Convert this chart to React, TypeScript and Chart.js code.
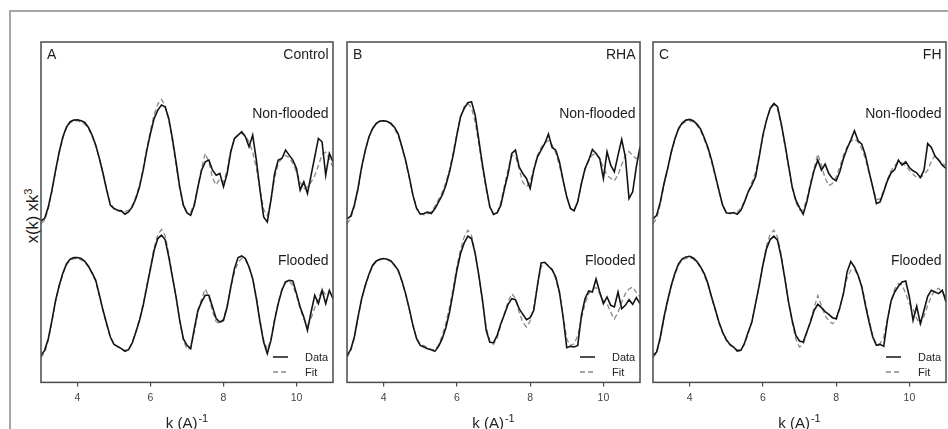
import React, { useEffect, useRef } from "react";
import { Chart, registerables } from "chart.js";

Chart.register(...registerables);

// k (Å^-1) sample positions
const kValues = [
  3.0, 3.1, 3.2, 3.3, 3.4, 3.5, 3.6, 3.7, 3.8, 3.9,
  4.0, 4.1, 4.2, 4.3, 4.4, 4.5, 4.6, 4.7, 4.8, 4.9,
  5.0, 5.1, 5.2, 5.3, 5.4, 5.5, 5.6, 5.7, 5.8, 5.9,
  6.0, 6.1, 6.2, 6.3, 6.4, 6.5, 6.6, 6.7, 6.8, 6.9,
  7.0, 7.1, 7.2, 7.3, 7.4, 7.5, 7.6, 7.7, 7.8, 7.9,
  8.0, 8.1, 8.2, 8.3, 8.4, 8.5, 8.6, 8.7, 8.8, 8.9,
  9.0, 9.1, 9.2, 9.3, 9.4, 9.5, 9.6, 9.7, 9.8, 9.9,
  10.0, 10.1, 10.2, 10.3, 10.4, 10.5, 10.6, 10.7, 10.8, 10.9,
  11.0,
];

const xTicks = [4, 6, 8, 10];

// Panel A - Control
const controlNonFloodedData = [
  4.84, 4.91, 5.26, 5.76, 6.36, 6.91, 7.36, 7.66, 7.81, 7.86,
  7.87, 7.84, 7.79, 7.64, 7.41, 7.11, 6.71, 6.26, 5.76, 5.31,
  5.21, 5.16, 5.14, 5.04, 5.11, 5.26, 5.51, 5.86, 6.36, 6.96,
  7.46, 7.91, 8.16, 8.31, 8.26, 7.91, 7.31, 6.61, 5.86, 5.31,
  5.08, 5.01, 5.31, 5.86, 6.36, 6.61, 6.66, 6.36, 6.21, 6.26,
  5.86, 6.26, 6.91, 7.31, 7.41, 7.51, 7.36, 7.06, 7.41, 6.66,
  5.76, 4.96, 4.81, 5.46, 6.26, 6.66, 6.71, 6.96, 6.81, 6.66,
  6.41, 5.76, 6.01, 5.66, 6.21, 6.76, 7.31, 7.21, 6.21, 6.86,
  6.61,
];
const controlNonFloodedFit = [
  4.76, 4.86, 5.2, 5.72, 6.32, 6.88, 7.32, 7.62, 7.78, 7.84,
  7.84, 7.8, 7.74, 7.6, 7.38, 7.08, 6.7, 6.25, 5.78, 5.38,
  5.2, 5.14, 5.12, 5.12, 5.16, 5.3, 5.56, 5.92, 6.42, 7.02,
  7.56, 8.02, 8.34, 8.48, 8.3, 7.86, 7.22, 6.5, 5.8, 5.3,
  5.1, 5.1, 5.36, 5.88, 6.42, 6.86, 6.6, 6.12, 5.92, 6.1,
  6.0, 6.36, 6.96, 7.3, 7.42, 7.46, 7.4, 7.2, 6.9, 6.42,
  5.8, 5.18, 5.0, 5.44, 6.12, 6.56, 6.72, 6.8, 6.74, 6.56,
  6.3, 6.0, 5.8, 5.86, 6.0, 6.2, 6.5, 6.82, 6.9, 6.7,
  6.45,
];
const controlFloodedData = [
  0.81, 0.96, 1.31, 1.86, 2.46, 2.91, 3.28, 3.56, 3.69, 3.74,
  3.74, 3.71, 3.63, 3.48, 3.28, 3.06, 2.61, 2.16, 1.76, 1.36,
  1.14, 1.08, 1.01, 0.93, 0.98, 1.18, 1.51, 1.86, 2.31, 2.86,
  3.41, 3.96, 4.31, 4.41, 4.28, 3.76, 3.16, 2.56, 1.86, 1.31,
  1.11, 1.01, 1.61, 2.16, 2.41, 2.61, 2.61, 2.26, 1.91, 1.81,
  1.86, 2.26, 2.86, 3.41, 3.74, 3.79, 3.71, 3.46, 3.11, 2.51,
  1.81, 1.21, 0.86, 1.26, 1.86, 2.36, 2.76, 3.01, 3.06, 3.04,
  2.66, 2.26, 1.96, 1.56, 2.11, 2.61, 2.36, 2.76, 2.36, 2.76,
  2.51,
];
const controlFloodedFit = [
  0.74, 0.9, 1.26, 1.82, 2.42, 2.88, 3.24, 3.52, 3.66, 3.71,
  3.71, 3.68, 3.6, 3.46, 3.26, 3.02, 2.6, 2.14, 1.72, 1.36,
  1.14, 1.06, 1.0, 0.96, 1.0, 1.2, 1.52, 1.9, 2.36, 2.92,
  3.48, 4.04, 4.42, 4.58, 4.4, 3.86, 3.2, 2.56, 1.86, 1.26,
  1.0, 1.02, 1.5, 2.1, 2.5, 2.8, 2.56, 2.12, 1.82, 1.76,
  1.9, 2.3, 2.84, 3.3, 3.6, 3.72, 3.68, 3.46, 3.1, 2.56,
  1.86, 1.26, 0.98, 1.3, 1.9, 2.4, 2.8, 3.0, 3.04, 2.9,
  2.6, 2.2, 1.9, 1.7, 1.92, 2.24, 2.5, 2.78, 2.62, 2.7,
  2.56,
];

// Panel B - RHA
const rhaNonFloodedData = [
  4.9, 4.98, 5.31, 5.81, 6.46, 6.96, 7.36, 7.61, 7.76, 7.83,
  7.84, 7.82, 7.76, 7.64, 7.44, 7.06, 6.66, 6.16, 5.61, 5.21,
  5.04, 5.06, 5.1, 5.06, 5.2, 5.41, 5.61, 5.91, 6.31, 6.81,
  7.41, 7.96, 8.21, 8.38, 8.41, 8.01, 7.26, 6.51, 5.86, 5.26,
  5.04, 5.08, 5.31, 5.81, 6.26, 6.86, 6.96, 6.46, 6.26, 6.11,
  5.81, 6.36, 6.76, 6.96, 7.16, 7.44, 7.04, 6.96, 6.61, 6.06,
  5.56, 5.21, 5.14, 5.41, 5.96, 6.41, 6.66, 6.98, 6.86, 6.71,
  6.11, 6.91, 6.51, 6.31, 6.81, 7.28, 6.76, 5.51, 5.71, 6.46,
  7.06,
];
const rhaNonFloodedFit = [
  4.76, 4.9, 5.26, 5.78, 6.42, 6.94, 7.34, 7.6, 7.76, 7.82,
  7.84, 7.82, 7.74, 7.6, 7.38, 7.04, 6.62, 6.12, 5.6, 5.24,
  5.06, 5.02, 5.04, 5.12, 5.28, 5.48, 5.7, 5.98, 6.38, 6.9,
  7.46, 7.96, 8.26, 8.36, 8.22, 7.8, 7.14, 6.42, 5.78, 5.24,
  5.02, 5.08, 5.4, 5.9, 6.4, 6.8, 6.78, 6.4, 6.0, 5.86,
  6.0, 6.4, 6.8, 7.04, 7.18, 7.24, 7.12, 6.88, 6.5, 6.02,
  5.56, 5.22, 5.16, 5.42, 5.94, 6.38, 6.66, 6.82, 6.84, 6.7,
  6.44, 6.2, 6.12, 6.04, 6.22, 6.52, 6.8, 6.92, 6.8, 6.7,
  6.76,
];
const rhaFloodedData = [
  0.81, 0.98, 1.36, 1.96, 2.51, 2.91, 3.24, 3.51, 3.64, 3.69,
  3.71, 3.69, 3.64, 3.51, 3.36, 3.04, 2.66, 2.21, 1.71, 1.31,
  1.11, 1.06, 1.01, 0.98, 0.93, 1.08, 1.31, 1.64, 2.11, 2.71,
  3.36, 3.86, 4.18, 4.38, 4.31, 3.86, 3.21, 2.46, 1.56, 1.2,
  1.19, 1.41, 1.76, 2.04, 2.34, 2.51, 2.48, 2.21, 2.04, 1.88,
  1.94, 2.16, 2.91, 3.58, 3.6, 3.48, 3.38, 3.16, 2.71, 1.96,
  1.04, 1.08, 1.06, 1.11, 2.01, 2.51, 2.74, 2.71, 3.1, 2.71,
  2.36, 2.56, 2.31, 2.26, 2.71, 2.21, 2.31, 2.48, 2.34, 2.54,
  2.36,
];
const rhaFloodedFit = [
  0.74, 0.94, 1.32, 1.92, 2.48, 2.88, 3.22, 3.48, 3.62, 3.68,
  3.7, 3.68, 3.62, 3.5, 3.32, 3.02, 2.64, 2.18, 1.7, 1.32,
  1.14, 1.1, 1.04, 0.98, 0.98, 1.12, 1.4, 1.78, 2.26, 2.84,
  3.46, 3.98, 4.36, 4.56, 4.4, 3.88, 3.18, 2.42, 1.66, 1.22,
  1.14, 1.34, 1.72, 2.08, 2.42, 2.66, 2.52, 2.1, 1.8, 1.66,
  1.84, 2.24, 2.9, 3.46, 3.58, 3.5, 3.36, 3.1, 2.68, 2.02,
  1.3, 1.1, 1.16, 1.4, 1.9, 2.36, 2.66, 2.8, 2.84, 2.66,
  2.44, 2.36, 2.1, 1.9, 2.1, 2.4, 2.66, 2.8, 2.86, 2.7,
  2.56,
];

// Panel C - FH
const fhNonFloodedData = [
  4.9, 5.01, 5.41, 5.96, 6.41, 6.91, 7.31, 7.61, 7.78, 7.86,
  7.88, 7.84, 7.74, 7.59, 7.33, 7.04, 6.66, 6.21, 5.76, 5.31,
  5.08, 5.06, 5.09, 5.04, 5.16, 5.41, 5.71, 5.91, 6.16, 6.76,
  7.41, 7.86, 8.21, 8.36, 8.26, 7.76, 7.16, 6.51, 5.86, 5.46,
  5.24, 5.04, 5.41, 5.91, 6.36, 6.66, 6.36, 6.54, 6.26, 6.11,
  6.04, 6.31, 6.71, 7.01, 7.26, 7.54, 7.24, 7.14, 6.81, 6.31,
  5.86, 5.36, 5.41, 5.71, 6.04, 6.28, 6.38, 6.66, 6.51, 6.61,
  6.44, 6.34, 6.28, 6.14, 6.36, 7.16, 7.04, 6.78, 6.66, 6.51,
  6.41,
];
const fhNonFloodedFit = [
  4.76, 4.92, 5.34, 5.9, 6.38, 6.88, 7.28, 7.58, 7.74, 7.82,
  7.84, 7.8, 7.7, 7.54, 7.28, 6.98, 6.6, 6.16, 5.72, 5.32,
  5.12, 5.08, 5.08, 5.1, 5.22, 5.44, 5.72, 6.0, 6.3, 6.8,
  7.36, 7.86, 8.2, 8.32, 8.2, 7.72, 7.1, 6.44, 5.84, 5.4,
  5.16, 5.16, 5.5, 5.98, 6.42, 6.84, 6.5, 6.12, 5.9, 5.96,
  6.16, 6.46, 6.8, 7.06, 7.22, 7.3, 7.2, 7.0, 6.7, 6.28,
  5.82, 5.48, 5.5, 5.76, 6.08, 6.34, 6.5, 6.6, 6.58, 6.48,
  6.36, 6.24, 6.14, 6.14, 6.22, 6.36, 6.62, 6.8, 6.68, 6.56,
  6.5,
];
const fhFloodedData = [
  0.81, 0.91, 1.36, 1.96, 2.46, 2.91, 3.28, 3.56, 3.7, 3.76,
  3.78, 3.73, 3.62, 3.46, 3.26, 2.96, 2.56, 2.19, 1.81, 1.51,
  1.28, 1.14, 1.06, 0.94, 0.96, 1.18, 1.51, 1.81, 2.36, 2.91,
  3.51, 4.01, 4.28, 4.38, 4.26, 3.76, 3.11, 2.41, 1.86, 1.41,
  1.24, 1.21, 1.51, 1.81, 2.16, 2.34, 2.24, 2.12, 2.04, 1.94,
  1.91, 2.24, 2.66, 3.31, 3.62, 3.46, 3.21, 2.86, 2.31, 1.81,
  1.36, 1.11, 1.14, 1.08, 1.86, 2.44, 2.71, 2.88, 3.01, 3.04,
  2.56, 1.86, 2.28, 1.76, 2.16, 2.58, 2.76, 2.71, 2.66, 2.76,
  2.41,
];
const fhFloodedFit = [
  0.74, 0.88, 1.3, 1.9, 2.42, 2.88, 3.24, 3.52, 3.66, 3.72,
  3.74, 3.7, 3.6, 3.44, 3.22, 2.92, 2.54, 2.16, 1.78, 1.48,
  1.26, 1.12, 1.04, 0.98, 0.98, 1.14, 1.46, 1.84, 2.34, 2.92,
  3.54, 4.1, 4.44, 4.56, 4.36, 3.82, 3.14, 2.42, 1.8, 1.3,
  1.06, 1.14, 1.48, 1.86, 2.24, 2.6, 2.3, 2.0, 1.84, 1.76,
  1.86, 2.2, 2.7, 3.14, 3.36, 3.38, 3.2, 2.9, 2.4, 1.86,
  1.4, 1.14, 1.16, 1.36, 1.9, 2.42, 2.8, 2.96, 2.92, 2.66,
  2.36, 2.2, 1.92, 1.74, 1.98, 2.3, 2.58, 2.76, 2.82, 2.7,
  2.56,
];

const panelLetters = ["A", "B", "C"];
const treatments = ["Control", "RHA", "FH"];
const conditionLabels = ["Non-flooded", "Flooded"];
const legendLabels = ["Data", "Fit"];
const xTitle = "k (A)";
const xTitleSup = "-1";

const panelSeries = [
  [controlNonFloodedData, controlNonFloodedFit, controlFloodedData, controlFloodedFit],
  [rhaNonFloodedData, rhaNonFloodedFit, rhaFloodedData, rhaFloodedFit],
  [fhNonFloodedData, fhNonFloodedFit, fhFloodedData, fhFloodedFit],
];

// layout (page pixels)
const panelLefts = [41, 347, 653];
const panelWidths = [292, 293, 293];
const CANVAS_TOP = 40;
const CANVAS_H = 389;
const PAD = 2;

const FONT = "'Liberation Sans', Arial, Helvetica, sans-serif";
const DATA_COLOR = "#141414";
const FIT_COLOR = "#888888";

function toPoints(vals: number[]) {
  return vals.map((v, i) => ({ x: kValues[i], y: v }));
}

function Panel({ index }: { index: number }) {
  const ref = useRef<HTMLCanvasElement>(null);
  useEffect(() => {
    const [nfData, nfFit, fData, fFit] = panelSeries[index];
    const decor = {
      id: "decor" + index,
      afterDraw(chart: any) {
        const ctx = chart.ctx as CanvasRenderingContext2D;
        const { left: L, right: R, top: T, bottom: B } = chart.chartArea;
        ctx.save();
        ctx.strokeStyle = "#4a4a4a";
        ctx.lineWidth = 1.5;
        ctx.strokeRect(L, T, R - L, B - T);

        ctx.fillStyle = "#1e1e1e";
        ctx.font = `14px ${FONT}`;
        ctx.textBaseline = "alphabetic";
        ctx.textAlign = "left";
        ctx.fillText(panelLetters[index], L + 6, T + 16.5);
        ctx.textAlign = "right";
        ctx.fillText(treatments[index], R - 4.5, T + 16.5);
        ctx.fillText(conditionLabels[0], R - 4.5, T + 76);
        ctx.fillText(conditionLabels[1], R - 4.5, T + 222.5);

        // legend
        ctx.lineWidth = 1.5;
        ctx.strokeStyle = DATA_COLOR;
        ctx.beginPath();
        ctx.moveTo(R - 60, T + 315);
        ctx.lineTo(R - 45, T + 315);
        ctx.stroke();
        ctx.strokeStyle = FIT_COLOR;
        ctx.lineWidth = 1.3;
        ctx.setLineDash([5, 3]);
        ctx.beginPath();
        ctx.moveTo(R - 60, T + 330);
        ctx.lineTo(R - 45, T + 330);
        ctx.stroke();
        ctx.setLineDash([]);
        ctx.font = `11px ${FONT}`;
        ctx.textAlign = "left";
        ctx.fillStyle = "#222";
        ctx.fillText(legendLabels[0], R - 28, T + 319);
        ctx.fillText(legendLabels[1], R - 28, T + 334);

        // x axis title with superscript
        ctx.font = `15px ${FONT}`;
        const w1 = ctx.measureText(xTitle).width;
        ctx.font = `11px ${FONT}`;
        const w2 = ctx.measureText(xTitleSup).width;
        const cx = (L + R) / 2;
        const x0 = cx - (w1 + w2 + 1) / 2;
        const base = B + 46;
        ctx.font = `15px ${FONT}`;
        ctx.fillText(xTitle, x0, base);
        ctx.font = `11px ${FONT}`;
        ctx.fillText(xTitleSup, x0 + w1 + 1, base - 6);
        ctx.restore();
      },
    };

    const chart = new Chart(ref.current as HTMLCanvasElement, {
      type: "line",
      data: {
        datasets: [
          { label: "Non-flooded data", data: toPoints(nfData), borderColor: DATA_COLOR, borderWidth: 1.6 },
          { label: "Flooded data", data: toPoints(fData), borderColor: DATA_COLOR, borderWidth: 1.6 },
          { label: "Non-flooded fit", data: toPoints(nfFit), borderColor: FIT_COLOR, borderWidth: 1.3, borderDash: [5, 3] },
          { label: "Flooded fit", data: toPoints(fFit), borderColor: FIT_COLOR, borderWidth: 1.3, borderDash: [5, 3] },
        ],
      },
      options: {
        responsive: false,
        animation: false,
        devicePixelRatio: 1,
        layout: { padding: { left: PAD, right: PAD, top: PAD, bottom: 20 } },
        elements: { point: { radius: 0 }, line: { tension: 0, fill: false } },
        plugins: { legend: { display: false }, tooltip: { enabled: false } },
        scales: {
          x: {
            type: "linear",
            min: 3,
            max: 11,
            afterBuildTicks: (axis: any) => {
              axis.ticks = xTicks.map((v) => ({ value: v }));
            },
            grid: { display: true, drawOnChartArea: false, drawTicks: true, tickLength: 4, color: "#4a4a4a", lineWidth: 1.2 },
            border: { display: false },
            ticks: { padding: 5, color: "#444", font: { family: FONT, size: 10.5 }, maxRotation: 0, callback: (v: any) => String(v) },
          },
          y: { display: false, min: 0, max: 10.2 },
        },
      },
      plugins: [decor],
    } as any);
    return () => chart.destroy();
  }, [index]);

  return (
    <canvas
      ref={ref}
      width={panelWidths[index] + PAD * 2}
      height={CANVAS_H}
      style={{ position: "absolute", left: panelLefts[index] - PAD, top: CANVAS_TOP }}
    />
  );
}

export default function App() {
  return (
    <div style={{ position: "absolute", left: 0, top: 0, width: 948, height: 429, overflow: "hidden", background: "#fff" }}>
      <div
        style={{
          position: "absolute",
          left: 9,
          top: 10,
          width: 980,
          height: 480,
          borderLeft: "2px solid #a6a6a6",
          borderTop: "2px solid #a6a6a6",
        }}
      />
      <div
        style={{
          position: "absolute",
          left: 32 - 60,
          top: 216 - 10,
          width: 120,
          height: 20,
          lineHeight: "20px",
          textAlign: "center",
          transform: "rotate(-90deg)",
          fontFamily: FONT,
          fontSize: 16.5,
          color: "#1e1e1e",
          whiteSpace: "nowrap",
        }}
      >
        x(k) xk<span style={{ fontSize: 11, position: "relative", top: -6 }}>3</span>
      </div>
      {[0, 1, 2].map((i) => (
        <Panel key={i} index={i} />
      ))}
    </div>
  );
}
